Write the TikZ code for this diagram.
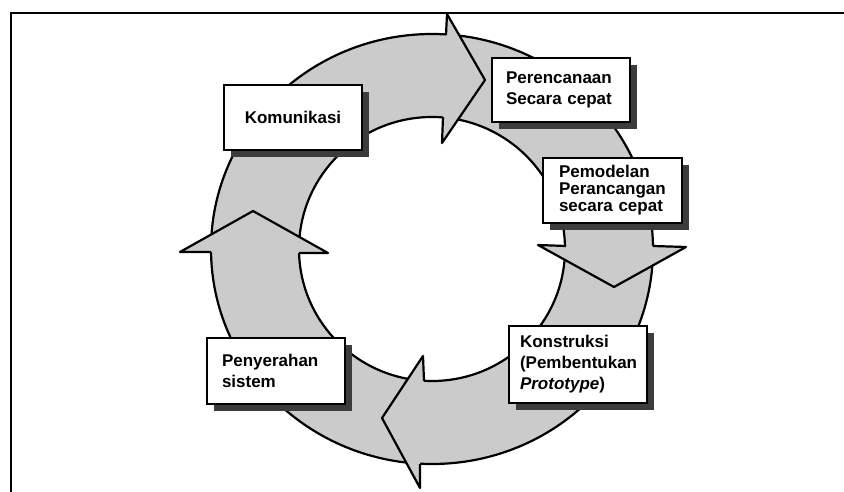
\documentclass[tikz,border=0pt]{standalone}
\usepackage{fontspec}
\setmainfont{Liberation Sans}
\usepackage{xcolor}
\usepackage{tikz}
\usetikzlibrary{shadows}
\definecolor{ringgray}{HTML}{CBCBCB}
\definecolor{shadowgray}{HTML}{3C3C3C}

\begin{document}
\begin{tikzpicture}[x=1pt, y=-1pt,
  stepbox/.style={draw, fill=white, line width=2pt, font=\fontsize{17}{21}\selectfont\bfseries,
    align=left, inner xsep=14pt, inner ysep=0pt, minimum width=138pt,
    drop shadow={shadow xshift=7pt, shadow yshift=-7pt, fill=shadowgray, opacity=1}},
  outline/.style={line width=2.2pt, line join=round}]
\useasboundingbox (0,0) rectangle (844,492);
% frame
\draw[line width=2pt] (11,492) -- (11,13) -- (844,13);
% ring
\fill[ringgray, even odd rule] (432,249) ellipse [x radius=221, y radius=215] (432,249) ellipse [x radius=133, y radius=132];
\draw[outline] (432,249) ellipse [x radius=221, y radius=215];
\draw[outline] (432,249) ellipse [x radius=133, y radius=132];
% arrow heads
\fill[ringgray] (446,35) -- (447,14) -- (485,80) -- (442,143) -- (443,117) -- cycle;
\draw[outline] (446,35) -- (447,14) -- (485,80) -- (442,143) -- (443,117);
\fill[ringgray] (566,246) -- (538,245) -- (614,287) -- (686,247) -- (653,246) -- cycle;
\draw[outline] (566,246) -- (538,245) -- (614,287) -- (686,247) -- (653,246);
\fill[ringgray] (424,381) -- (423,356) -- (382,418) -- (420,488) -- (420,464) -- cycle;
\draw[outline] (424,381) -- (423,356) -- (382,418) -- (420,488) -- (420,464);
\fill[ringgray] (211,252) -- (180,252) -- (253,211) -- (328,253) -- (299,253) -- cycle;
\draw[outline] (211,252) -- (180,252) -- (253,211) -- (328,253) -- (299,253);

\node[stepbox, minimum height=65pt, align=center] (comm) at (293,117.5) {Komunikasi};
\node[stepbox, minimum height=64pt, text width=109pt, inner xsep=14pt] (plan) at (560.5,90) {Perencanaan\\Secara cepat};
\node[stepbox, minimum height=65pt, text width=107pt, inner xsep=16pt, font=\fontsize{17}{17}\selectfont\bfseries] (model) at (612.5,190.5) {Pemodelan\\Perancangan\\secara cepat};
\node[stepbox, minimum height=77pt, text width=116pt, inner xsep=11pt] (build) at (578,364.5) {Konstruksi\\(Pembentukan\\\textit{Prototype})};
\node[stepbox, minimum height=66pt, text width=108pt, inner xsep=15pt] (deploy) at (276,371) {Penyerahan\\sistem};
\end{tikzpicture}
\end{document}
